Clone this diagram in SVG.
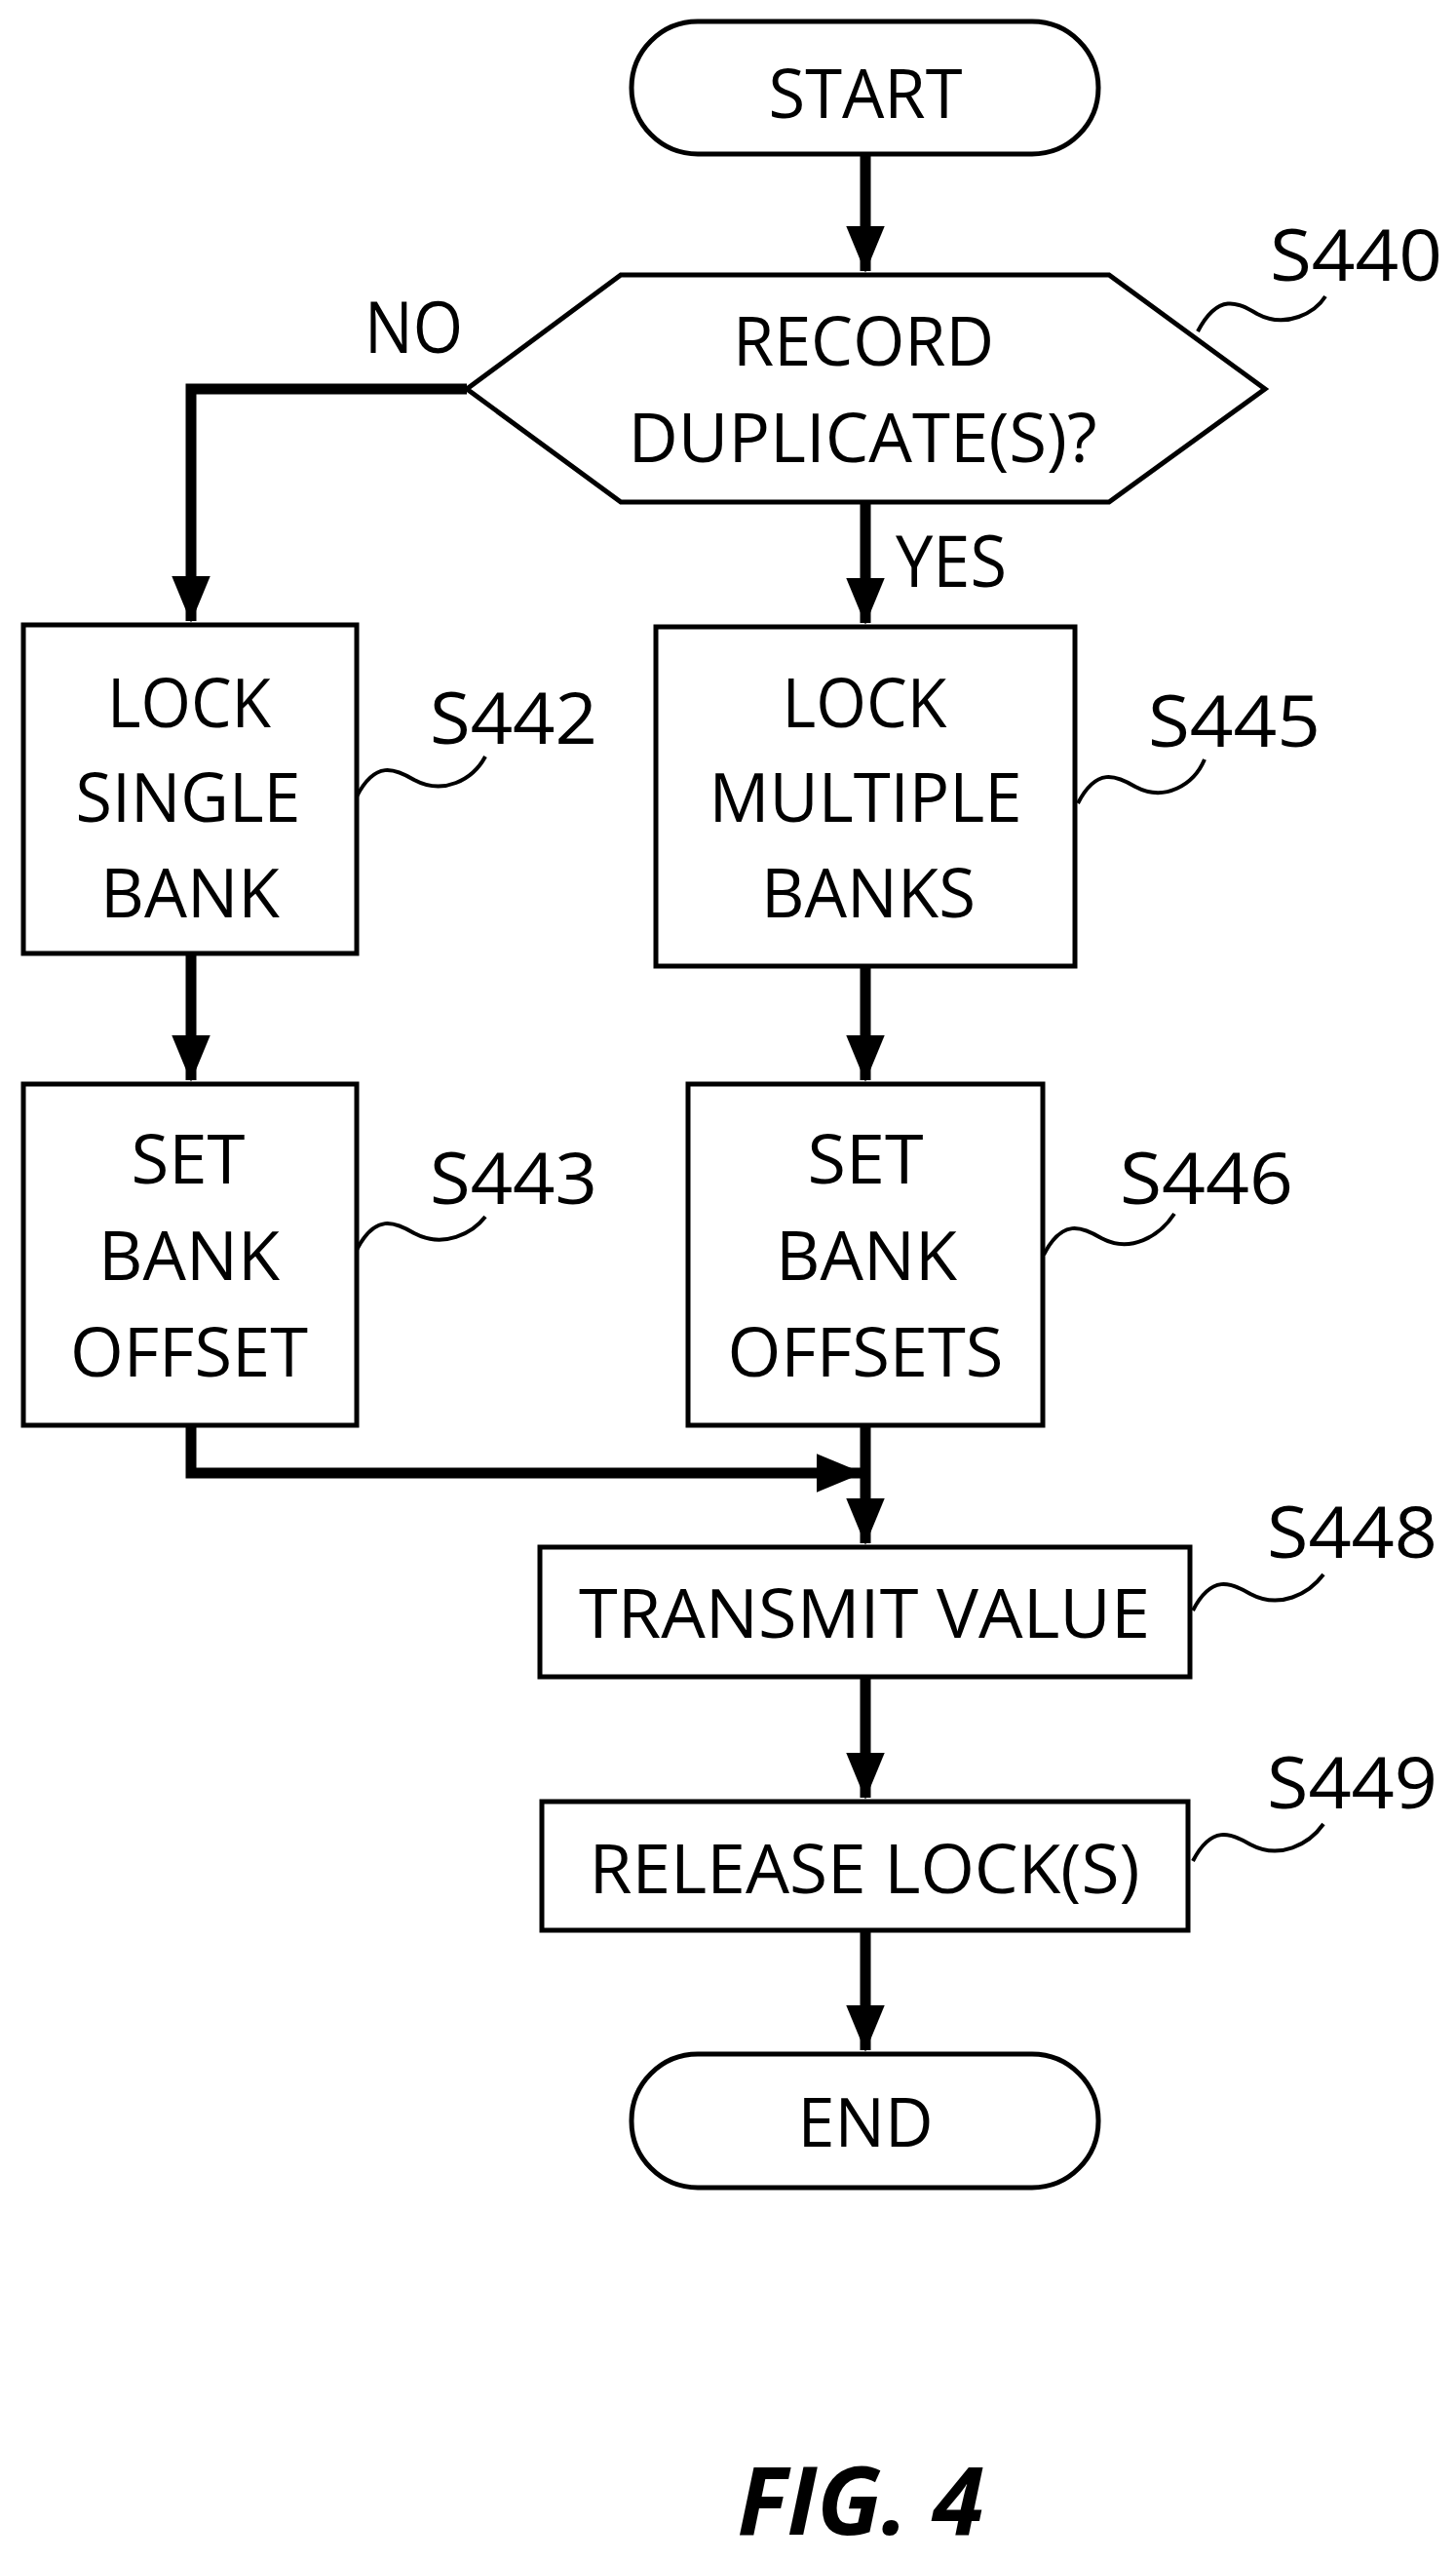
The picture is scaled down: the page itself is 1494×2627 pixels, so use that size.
<svg xmlns="http://www.w3.org/2000/svg" width="1494" height="2627" viewBox="0 0 1494 2627">
<defs>
<marker id="ah" markerUnits="userSpaceOnUse" markerWidth="48" markerHeight="58" refX="56" refY="24" viewBox="0 0 58 48" orient="auto"><path d="M0,0 L58,24 L0,48 Z" fill="#000"/></marker>
<style>
.n{fill:#fff;stroke:#000;stroke-width:5}
.t{font-family:"Open Sans","Noto Sans",sans-serif;font-size:70px;fill:#000;text-anchor:middle}
.l{font-family:"Open Sans","Noto Sans",sans-serif;font-size:74px;fill:#000}
.c{fill:none;stroke:#000;stroke-width:11}
.q{fill:none;stroke:#000;stroke-width:4}
</style>
</defs>
<g id="connectors">
<path class="c" d="M888,158 V278" marker-end="url(#ah)"/>
<path class="c" d="M479,399 H196 V637" marker-end="url(#ah)"/>
<path class="c" d="M888,515 V639" marker-end="url(#ah)"/>
<path class="c" d="M196,978 V1108" marker-end="url(#ah)"/>
<path class="c" d="M888,991 V1108" marker-end="url(#ah)"/>
<path class="c" d="M196,1462 V1511 H884" marker-end="url(#ah)"/>
<path class="c" d="M888,1462 V1583" marker-end="url(#ah)"/>
<path class="c" d="M888,1720 V1844" marker-end="url(#ah)"/>
<path class="c" d="M888,1980 V2103" marker-end="url(#ah)"/>
</g>
<g id="start"><rect class="n" x="648" y="22" width="479" height="136" rx="68"/><text class="t" x="888" y="121" textLength="199" lengthAdjust="spacingAndGlyphs">START</text></g>
<g id="s440">
<polygon class="n" points="479,399 637,282 1138,282 1298,399 1138,515 637,515"/>
<text class="t" x="886" y="375" textLength="268" lengthAdjust="spacingAndGlyphs">RECORD</text>
<text class="t" x="885" y="474" textLength="481" lengthAdjust="spacingAndGlyphs">DUPLICATE(S)?</text>
<path class="q" d="M1229,340 C1250,300 1270,310 1290,322 C1320,338 1350,320 1360,304"/>
<text class="l" x="1303" y="288" textLength="177" lengthAdjust="spacingAndGlyphs">S440</text>
<text class="l" x="374" y="362" textLength="101" lengthAdjust="spacingAndGlyphs">NO</text>
<text class="l" x="919" y="602" textLength="114" lengthAdjust="spacingAndGlyphs">YES</text>
</g>
<g id="s442">
<rect class="n" x="24" y="641" width="342" height="337"/>
<text class="t" x="194" y="746" textLength="168" lengthAdjust="spacingAndGlyphs">LOCK</text>
<text class="t" x="193" y="843" textLength="231" lengthAdjust="spacingAndGlyphs">SINGLE</text>
<text class="t" x="195" y="941" textLength="184" lengthAdjust="spacingAndGlyphs">BANK</text>
<path class="q" d="M366,817 C385,780 405,788 425,800 C455,816 485,800 498,776"/>
<text class="l" x="441" y="763" textLength="172" lengthAdjust="spacingAndGlyphs">S442</text>
</g>
<g id="s445">
<rect class="n" x="673" y="643" width="430" height="348"/>
<text class="t" x="887" y="746" textLength="169" lengthAdjust="spacingAndGlyphs">LOCK</text>
<text class="t" x="888" y="843" textLength="321" lengthAdjust="spacingAndGlyphs">MULTIPLE</text>
<text class="t" x="891" y="941" textLength="220" lengthAdjust="spacingAndGlyphs">BANKS</text>
<path class="q" d="M1106,824 C1125,787 1145,795 1165,807 C1195,823 1225,805 1236,779"/>
<text class="l" x="1178" y="766" textLength="177" lengthAdjust="spacingAndGlyphs">S445</text>
</g>
<g id="s443">
<rect class="n" x="24" y="1112" width="342" height="350"/>
<text class="t" x="193" y="1214" textLength="117" lengthAdjust="spacingAndGlyphs">SET</text>
<text class="t" x="194" y="1313" textLength="186" lengthAdjust="spacingAndGlyphs">BANK</text>
<text class="t" x="194" y="1412" textLength="244" lengthAdjust="spacingAndGlyphs">OFFSET</text>
<path class="q" d="M366,1282 C385,1245 405,1253 425,1265 C455,1281 485,1265 498,1248"/>
<text class="l" x="441" y="1235" textLength="172" lengthAdjust="spacingAndGlyphs">S443</text>
</g>
<g id="s446">
<rect class="n" x="706" y="1112" width="364" height="350"/>
<text class="t" x="888" y="1214" textLength="119" lengthAdjust="spacingAndGlyphs">SET</text>
<text class="t" x="889" y="1313" textLength="186" lengthAdjust="spacingAndGlyphs">BANK</text>
<text class="t" x="888" y="1412" textLength="283" lengthAdjust="spacingAndGlyphs">OFFSETS</text>
<path class="q" d="M1071,1287 C1090,1250 1110,1258 1130,1270 C1160,1286 1190,1268 1205,1245"/>
<text class="l" x="1149" y="1235" textLength="178" lengthAdjust="spacingAndGlyphs">S446</text>
</g>
<g id="s448">
<rect class="n" x="554" y="1587" width="667" height="133"/>
<text class="t" x="887" y="1680" textLength="586" lengthAdjust="spacingAndGlyphs">TRANSMIT VALUE</text>
<path class="q" d="M1224,1652 C1243,1615 1263,1623 1283,1635 C1313,1651 1343,1635 1358,1615"/>
<text class="l" x="1300" y="1598" textLength="175" lengthAdjust="spacingAndGlyphs">S448</text>
</g>
<g id="s449">
<rect class="n" x="556" y="1848" width="663" height="132"/>
<text class="t" x="887" y="1942" textLength="565" lengthAdjust="spacingAndGlyphs">RELEASE LOCK(S)</text>
<path class="q" d="M1224,1909 C1243,1872 1263,1880 1283,1892 C1313,1908 1343,1892 1358,1871"/>
<text class="l" x="1300" y="1855" textLength="175" lengthAdjust="spacingAndGlyphs">S449</text>
</g>
<g id="end"><rect class="n" x="648" y="2107" width="479" height="137" rx="68"/><text class="t" x="888" y="2202" textLength="139" lengthAdjust="spacingAndGlyphs">END</text></g>
<text x="883" y="2600" font-family="'Open Sans','Noto Sans',sans-serif" font-size="96" font-weight="bold" font-style="italic" text-anchor="middle" textLength="253" lengthAdjust="spacingAndGlyphs">FIG. 4</text>
</svg>
